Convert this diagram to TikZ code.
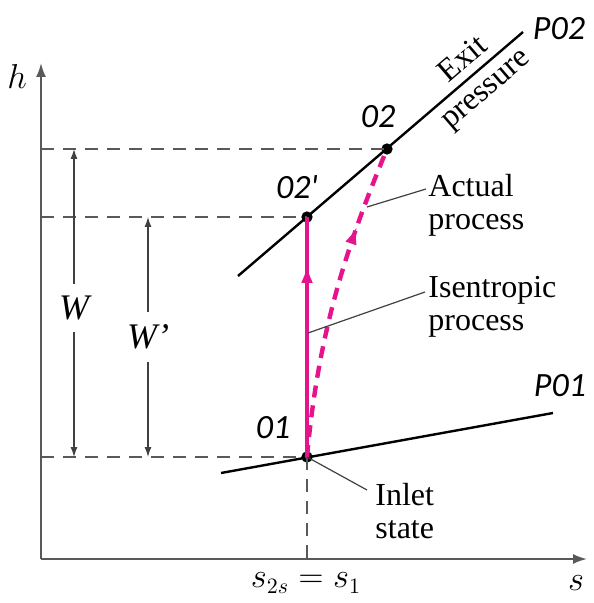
\documentclass[tikz,border=0pt]{standalone}
\usepackage{fontspec}
\setmainfont{Liberation Serif}
\newfontfamily\lblfont{Carlito}
\usetikzlibrary{arrows.meta,decorations.markings}
\definecolor{procmag}{RGB}{230,20,140}

\begin{document}
\begin{tikzpicture}[x=0.5pt, y=-0.5pt,
    every node/.style={font=\fontsize{16}{16.5}\selectfont},
    axis/.style={draw=black!65, line width=1pt},
    guide/.style={draw=black!65, line width=0.9pt, dash pattern=on 6.5pt off 4.5pt},
    isobar/.style={line width=1.2pt},
    state/.style={circle, fill=black, inner sep=2pt},
    lbl/.style={font=\lblfont\itshape\fontsize{17}{18}\selectfont},
    wlbl/.style={font=\itshape\fontsize{18}{18}\selectfont, inner sep=6pt},
    dim/.style={draw=black!75, line width=0.6pt, -{Latex[length=5pt,width=3.5pt]}},
    leader/.style={draw=black!75, line width=0.6pt},
    note/.style={anchor=west, align=left, inner sep=0pt},
    proc/.style={draw=procmag, line width=2.2pt}]
    \useasboundingbox (0,0) rectangle (593,603);

    % axes
    \coordinate (o) at (41,559);
    \coordinate (htip) at (41,63);
    \coordinate (stip) at (587,559);
    \draw[axis, -{Latex[length=7pt,width=5pt]}] (o) -- (htip);
    \draw[axis, -{Latex[length=7pt,width=5pt]}] (o) -- (stip);
    \node (hlab) at (17,77) {$h$};
    \node (slab) at (576,583) {$s$};
    \node (s1lab) at (306,583) {$s_{2s} = s_1$};

    % state points
    \node[state] (s1) at (307,457) {};
    \node[state] (s2p) at (307,217) {};
    \node[state] (s2) at (387,149) {};
    \node[lbl] (l01) at (273,428) {01};
    \node[lbl] (l02p) at (297,187) {02'};
    \node[lbl] (l02) at (378,117) {02};

    % constant pressure lines
    \coordinate (p2a) at (238,276);
    \coordinate (p2b) at (523,32);
    \coordinate (p1a) at (221,473);
    \coordinate (p1b) at (553,413);
    \draw[isobar] (p2a) -- (p2b);
    \draw[isobar] (p1a) -- (p1b);
    \node[lbl] (lp02) at (559,29) {P02};
    \node[lbl] (lp01) at (560,386) {P01};
    \node[rotate=40.6] (exit) at (462,58) {Exit};
    \node[rotate=40.6] (pres) at (488,92) {pressure};

    % guide lines
    \coordinate (h2) at (41,149);
    \coordinate (h2p) at (41,217);
    \coordinate (h1) at (41,457);
    \draw[guide] (h2) -- (s2.center);
    \draw[guide] (h2p) -- (s2p.center);
    \draw[guide] (h1) -- (s1.center);
    \draw[guide] (s1.center) -- (s1 |- o);

    % work arrows
    \node[wlbl] (w) at (74,308) {W};
    \node[wlbl] (wp) at (148,337) {W'};
    \draw[dim] (w) -- (w |- h2);
    \draw[dim] (w) -- (w |- h1);
    \draw[dim] (wp) -- (wp |- h2p);
    \draw[dim] (wp) -- (wp |- h1);

    % processes
    \draw[proc, postaction={decorate}, decoration={markings,
        mark=at position 0.8 with {\arrow{Latex[length=9pt,width=6pt]}}}]
        (s1.center) -- (s2p.center);
    \draw[proc, dash pattern=on 6pt off 4pt, postaction={decorate}, decoration={markings,
        mark=at position 0.74 with {\arrow{Latex[length=9pt,width=6pt]}}}]
        (s1.center) .. controls (318,335) and (345,250) .. (s2.center);

    % notes
    \node[note] (act) at (428,205) {Actual\\process};
    \node[note] (isen) at (428,307) {Isentropic\\process};
    \node[note] (inlet) at (375,511) {Inlet\\state};
    \coordinate (actpt) at (367,207);
    \coordinate (actend) at (426,189);
    \coordinate (isenpt) at (308,333);
    \coordinate (isenend) at (425,292);
    \coordinate (inletend) at (367,490);
    \draw[leader] (actpt) -- (actend);
    \draw[leader] (isenpt) -- (isenend);
    \draw[leader] (s1.center) -- (inletend);
\end{tikzpicture}
\end{document}
